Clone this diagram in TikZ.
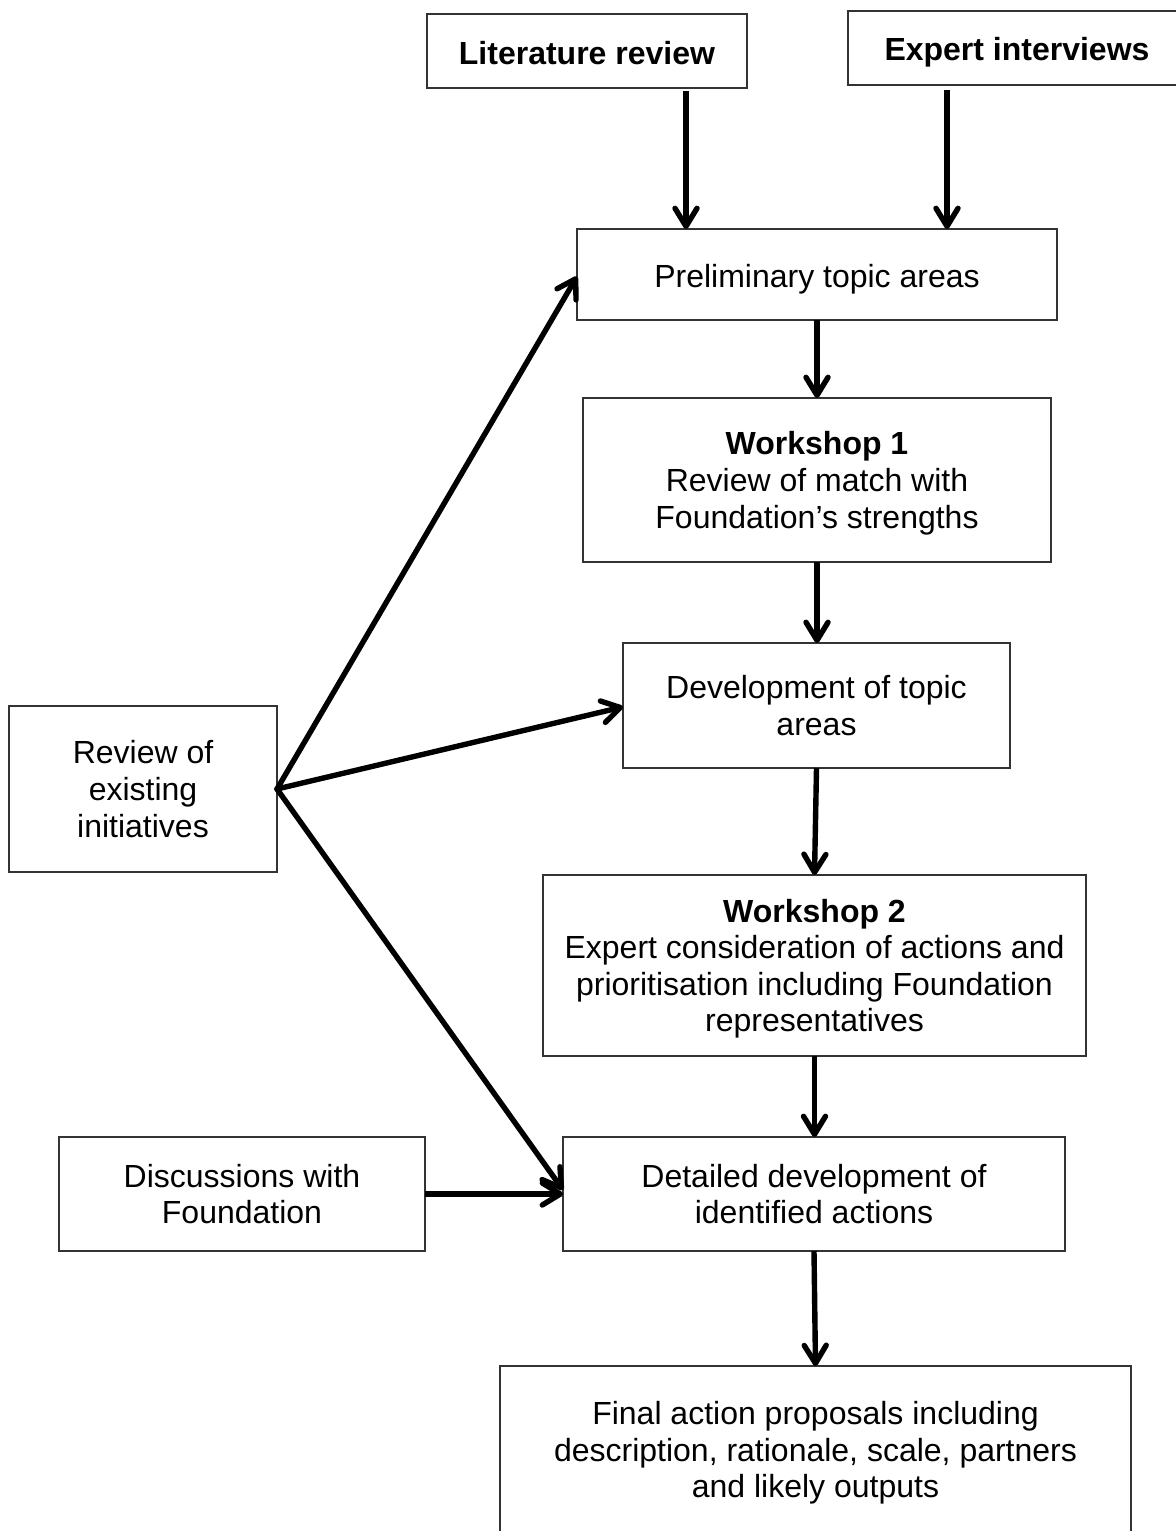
\documentclass[tikz,border=0pt]{standalone}
\usepackage{fontspec}
\setmainfont{Liberation Sans}
\usetikzlibrary{arrows.meta}
\newcommand{\upst}[1]{\rule{0pt}{#1}}
\begin{document}
\begin{tikzpicture}[x=0.5pt,y=-0.5pt,
  box/.style={draw=black!80, line width=0.7pt, inner sep=0pt, outer sep=0pt, align=center,
    font=\fontsize{16}{18.3}\selectfont},
  arr/.style={line width=2.7pt, -{Straight Barb[length=9pt,width=11pt,round]}}]
\useasboundingbox (0,0) rectangle (1176,1531);
\node[box, minimum width=160pt, minimum height=37pt] (lit) at (587,51) {\upst{13.9pt}\textbf{Literature review}};
\node[box, minimum width=169pt, minimum height=37pt] (exp) at (1017,48) {\upst{15.9pt}\textbf{Expert interviews}};
\node[box, minimum width=240pt, minimum height=45.5pt] (pre) at (817,274.5) {\upst{15.9pt}Preliminary topic areas};
\node[box, minimum width=234pt, minimum height=82pt] (w1) at (817,480) {\upst{14.9pt}\textbf{Workshop 1}\\Review of match with\\Foundation’s strengths};
\node[box, minimum width=193.5pt, minimum height=62.5pt] (dev) at (816.5,705.5) {Development of topic\\areas};
\node[box, minimum width=134pt, minimum height=83pt] (rev) at (143,789) {Review of\\existing\\initiatives};
\node[box, minimum width=271.5pt, minimum height=90.5pt] (w2) at (814.5,965.5) {\upst{14.9pt}\textbf{Workshop 2}\\Expert consideration of actions and\\prioritisation including Foundation\\representatives};
\node[box, minimum width=183pt, minimum height=57pt] (dis) at (242,1194) {Discussions with\\Foundation};
\node[box, minimum width=251pt, minimum height=57pt] (det) at (814,1194) {Detailed development of\\identified actions};
\node[box, minimum width=315.5pt, minimum height=87pt] (fin) at (815.5,1453) {Final action proposals including\\description, rationale, scale, partners\\and likely outputs};
\coordinate (litout) at ([xshift=49.5pt,yshift=-1.5pt]lit.south);
\coordinate (expout) at ([xshift=-35pt,yshift=-2.5pt]exp.south);
\draw[arr] (litout) -- (litout |- pre.north);
\draw[arr] (expout) -- (expout |- pre.north);
\draw[arr] (pre.south) -- (pre.south |- w1.north);
\draw[arr] (w1.south) -- (w1.south |- dev.north);
\draw[arr] (dev.south) -- (w2.north);
\draw[arr] (w2.south) -- (w2.south |- det.north);
\draw[arr] (det.south) -- (fin.north);
\draw[arr, line cap=round] (rev.east) -- ([yshift=-1pt]pre.west);
\draw[arr, line cap=round] (rev.east) -- ([yshift=-0.7pt]dev.west);
\draw[arr, line cap=round] (rev.east) -- ([yshift=2pt]det.west);
\draw[arr] (dis.east) -- (det.west);
\end{tikzpicture}
\end{document}
